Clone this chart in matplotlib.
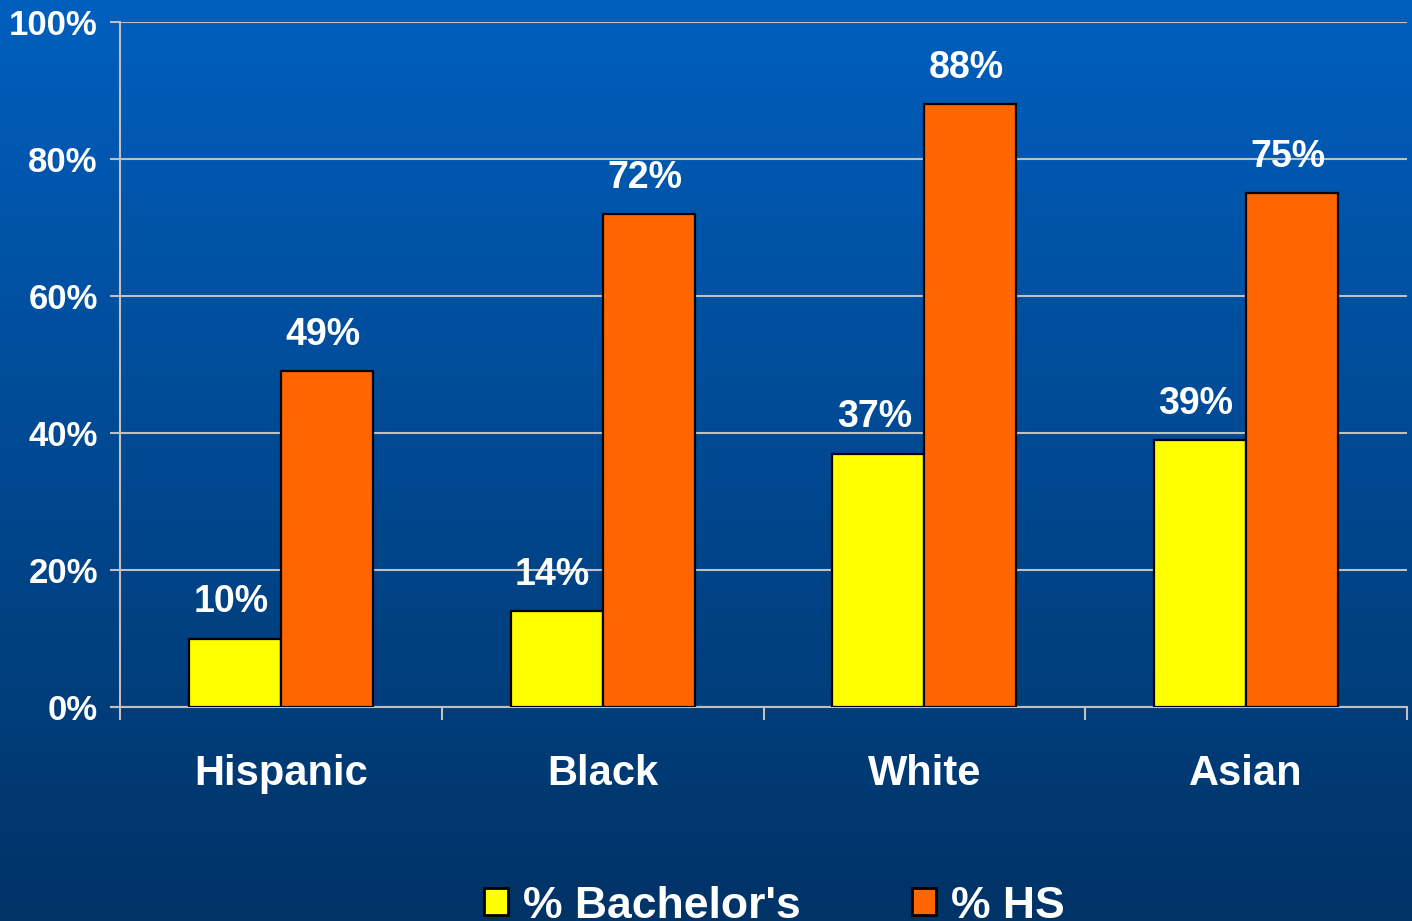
import numpy as np
import matplotlib
matplotlib.use("Agg")
import matplotlib.pyplot as plt
from matplotlib.patches import Patch
from matplotlib import font_manager

groups = ["Hispanic", "Black", "White", "Asian"]
bachelors = [10, 14, 37, 39]
high_school = [49, 72, 88, 75]
series_names = ["% Bachelor's", "% HS"]
yticks = [0, 20, 40, 60, 80, 100]

plt.rcParams['font.family'] = ['Liberation Sans', 'DejaVu Sans']
plt.rcParams['font.weight'] = 'bold'

names = {f.name for f in font_manager.fontManager.ttflist}
narrow = 'Liberation Sans Narrow' if 'Liberation Sans Narrow' in names else 'Liberation Sans'

fig = plt.figure(figsize=(14.12, 9.21), dpi=100)

# blue vertical gradient behind everything
bg = fig.add_axes([0, 0, 1, 1], zorder=-10)
top = np.array([0x00, 0x5f, 0xbe]) / 255.
bot = np.array([0x00, 0x33, 0x66]) / 255.
t = np.linspace(0, 1, 256)[:, None]
grad = top[None, :] * (1 - t) + bot[None, :] * t
bg.imshow(grad[:, None, :], aspect='auto', extent=[0, 1, 0, 1])
bg.axis('off')

ax = fig.add_axes([120 / 1412, 1 - 707 / 921, (1407 - 120) / 1412, (707 - 22) / 921])
ax.set_facecolor('none')

x = np.arange(len(groups))
w = 0.286
grid_col = '#c0c0c0'

b1 = ax.bar(x - w / 2, bachelors, w, color='#ffff00', edgecolor='black',
            linewidth=1.6, zorder=3)
b2 = ax.bar(x + w / 2, high_school, w, color='#ff6600', edgecolor='black',
            linewidth=1.6, zorder=3)

for bars, vals in [(b1, bachelors), (b2, high_school)]:
    for r, v in zip(bars, vals):
        ax.annotate("%d%%" % v, (r.get_x() + r.get_width() / 2, v),
                    xytext=(-3, 13), textcoords='offset points',
                    ha='center', va='bottom', color='white',
                    fontsize=27, fontweight='bold')

ax.set_xlim(-0.5, len(groups) - 0.5)
ax.set_ylim(0, 100)
ax.set_yticks(yticks)
ax.set_yticklabels(["%d%%" % v for v in yticks])
ax.yaxis.grid(True, color=grid_col, linewidth=1.5, zorder=0)
ax.set_axisbelow(True)

ax.set_xticks(np.arange(len(groups) + 1) - 0.5)
ax.set_xticklabels([])
ax.set_xticks(x, minor=True)
ax.set_xticklabels(groups, minor=True)
ax.tick_params(axis='x', which='minor', length=0, pad=34, labelsize=30,
               labelcolor='white')
ax.tick_params(axis='x', which='major', length=9, width=1.5, color=grid_col,
               direction='out')
ax.tick_params(axis='y', length=7, width=1.5, color=grid_col, pad=9,
               labelsize=25, labelcolor='white')
for lab in ax.get_xticklabels(minor=True) + ax.get_yticklabels():
    lab.set_fontweight('bold')

ax.spines['top'].set_visible(False)
ax.spines['right'].set_visible(False)
for s in ['left', 'bottom']:
    ax.spines[s].set_color(grid_col)
    ax.spines[s].set_linewidth(1.5)

handles = [Patch(facecolor='#ffff00', edgecolor='black', linewidth=2),
           Patch(facecolor='#ff6600', edgecolor='black', linewidth=2)]
fig.legend(handles, series_names, loc='center', ncol=2,
           bbox_to_anchor=(774 / 1412, 1 - 906 / 921), frameon=False,
           handlelength=0.56, handleheight=0.56, handletextpad=0.32,
           columnspacing=2.5,
           prop={'family': narrow, 'weight': 'bold', 'size': 32},
           labelcolor='white')

fig.savefig('out.png', dpi=100)
